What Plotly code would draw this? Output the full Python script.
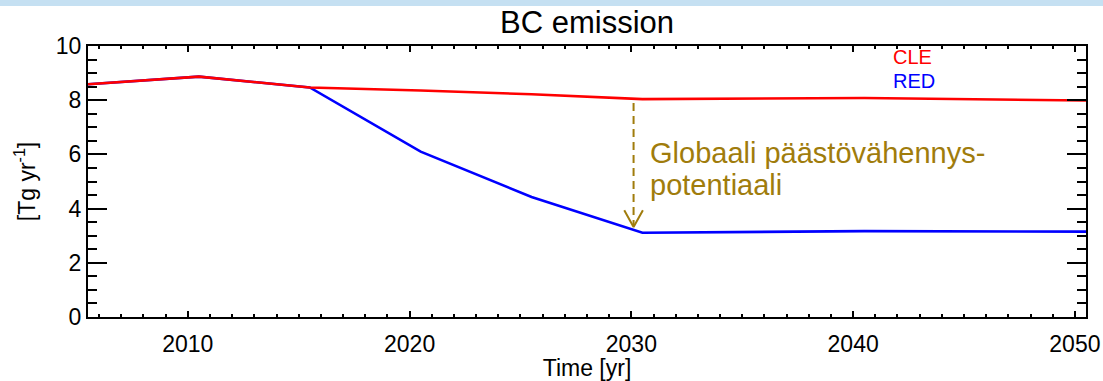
import plotly.graph_objects as go

# ---- data ----
years = [2005.5, 2010.5, 2015.5, 2020.5, 2025.5, 2030.5, 2040.5, 2050.5]
cle = [8.59, 8.87, 8.47, 8.36, 8.22, 8.04, 8.08, 7.99]
red = [8.59, 8.87, 8.47, 6.10, 4.43, 3.11, 3.17, 3.15]
x_ticks = [2010, 2020, 2030, 2040, 2050]
y_ticks = [0, 2, 4, 6, 8, 10]

arrow_x = 2030.1
arrow_top = 7.9
arrow_tip = 3.32
head_dx = 0.42
head_dy = 0.62

FONT = "Liberation Sans, Arial, Helvetica, sans-serif"
GOLD = "#A07C0C"

fig = go.Figure()
fig.add_trace(go.Scatter(x=years, y=red, mode="lines",
                         line=dict(color="#0000FF", width=2.6), showlegend=False))
fig.add_trace(go.Scatter(x=years, y=cle, mode="lines",
                         line=dict(color="#FF0000", width=2.6), showlegend=False))
# dashed arrow
fig.add_trace(go.Scatter(x=[arrow_x, arrow_x], y=[arrow_top, arrow_tip + 0.05], mode="lines",
                         line=dict(color=GOLD, width=2, dash="8px,5px"), showlegend=False))
fig.add_trace(go.Scatter(x=[arrow_x - head_dx, arrow_x, arrow_x + head_dx],
                         y=[arrow_tip + head_dy, arrow_tip, arrow_tip + head_dy], mode="lines",
                         line=dict(color=GOLD, width=2), showlegend=False))

axis_common = dict(showline=True, linecolor="black", linewidth=2, mirror="ticks",
                   showgrid=False, zeroline=False, ticks="inside", tickcolor="black",
                   automargin=False,
                   tickfont=dict(family=FONT, size=23, color="black"))

fig.update_xaxes(range=[2005.5, 2050.5], tickvals=x_ticks, ticklen=6, tickwidth=2,
                 ticklabelstandoff=5,
                 minor=dict(dtick=1, tick0=2010, ticklen=3, tickwidth=1.5, ticks="inside", tickcolor="black"),
                 title=dict(text="Time [yr]", font=dict(family=FONT, size=23, color="black"), standoff=0),
                 **axis_common)
fig.update_yaxes(range=[0, 10], tickvals=y_ticks, ticklen=19, tickwidth=2,
                 minor=dict(dtick=0.5, tick0=0, ticklen=9, tickwidth=2, ticks="inside", tickcolor="black"),
                 title=dict(text="[Tg yr<sup>-1</sup>]", font=dict(family=FONT, size=23, color="black"), standoff=14),
                 **axis_common)

H = 271.0
def py(p):
    return 1 + (46 - p) / H
def px(p):
    return (p - 88) / 998.0

annotations = [
    dict(text="BC emission", x=0.5, y=py(22), xref="paper", yref="paper", showarrow=False,
         font=dict(family=FONT, size=31, color="black"), xanchor="center", yanchor="middle"),
    dict(text="CLE", x=px(891), y=py(57.5), xref="paper", yref="paper", showarrow=False,
         font=dict(family=FONT, size=20, color="#FF0000"), xanchor="left", yanchor="middle"),
    dict(text="RED", x=px(891), y=py(81), xref="paper", yref="paper", showarrow=False,
         font=dict(family=FONT, size=20, color="#0000FF"), xanchor="left", yanchor="middle"),
    dict(text="Globaali päästövähennys-", x=px(648), y=py(153), xref="paper", yref="paper", showarrow=False,
         font=dict(family=FONT, size=29, color=GOLD), xanchor="left", yanchor="middle"),
    dict(text="potentiaali", x=px(648), y=py(185), xref="paper", yref="paper", showarrow=False,
         font=dict(family=FONT, size=29, color=GOLD), xanchor="left", yanchor="middle"),
]

fig.update_layout(
    width=1103, height=381,
    margin=dict(l=88, r=17, t=46, b=64, autoexpand=False),
    paper_bgcolor="white", plot_bgcolor="white",
    annotations=annotations,
    shapes=[dict(type="rect", xref="paper", yref="paper", x0=-0.2, x1=1.2,
                 y0=py(6), y1=py(-2), fillcolor="#C5E0F2", line=dict(width=0), layer="below")],
)

fig.write_html("out.html", config={"displayModeBar": False},
               post_script="document.body.style.margin='0';")
